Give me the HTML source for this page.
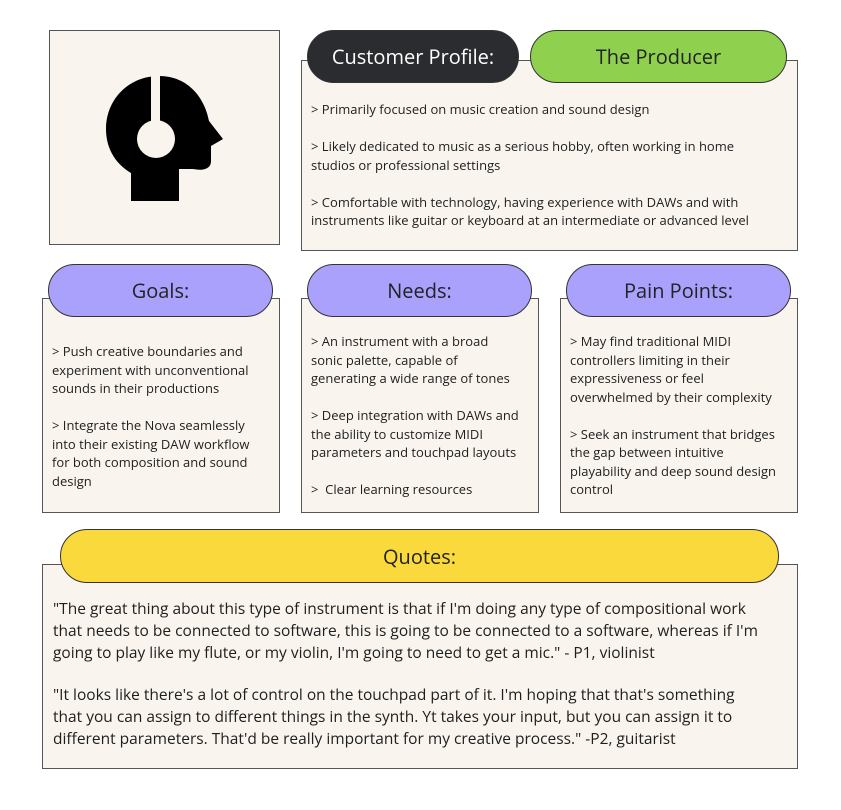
<!DOCTYPE html>
<html><head><meta charset="utf-8"><style>
body{margin:0;width:841px;height:810px;background:#fff;position:relative;font-family:"Open Sans","Liberation Sans","DejaVu Sans",sans-serif;color:#1e1e1e;overflow:hidden}
.box{position:absolute;background:#f9f5ee;border:1px solid #555;box-sizing:border-box}
.pill{position:absolute;box-sizing:border-box;border:1px solid #333;border-radius:27px;display:flex;align-items:center;justify-content:center;font-size:20px;color:#222}
.t{position:absolute;font-size:13px;line-height:18.5px}
.t p{margin:0 0 18.5px 0}
.q{position:absolute;font-size:15.5px;line-height:22px;white-space:nowrap}
.q p{margin:0 0 20px 0}
</style></head><body>
<div class="box" style="left:49px;top:30px;width:231px;height:215px">
<svg width="231" height="215" style="position:absolute;left:-49px;top:-30px;overflow:visible">
<path d="M130,200 L130,172 C110,160 105,142 105,128 C105,98 128,75 158,75 C188,75 204,98 208,120 L222,138 L210,145 L210,160 C210,168 202,170 192,168 L178,168 L178,200 Z" fill="#000"/>
<rect x="150" y="70" width="9" height="60" fill="#f9f5ee"/>
<circle cx="155" cy="138" r="19" fill="#f9f5ee"/>
</svg></div>
<div class="box" style="left:301px;top:60px;width:497px;height:191px"></div>
<div class="pill" style="left:307px;top:30px;width:212px;height:53px;background:#2b2c2f;color:#fff">Customer Profile:</div>
<div class="pill" style="left:530px;top:30px;width:257px;height:53px;background:#8fd14f">The Producer</div>
<div class="t" style="left:311px;top:100px;width:458px">
<p>&gt; Primarily focused on music creation and sound design</p>
<p>&gt; Likely dedicated to music as a serious hobby, often working in home studios or professional settings</p>
<p>&gt; Comfortable with technology, having experience with DAWs and with instruments like guitar or keyboard at an intermediate or advanced level</p></div>

<div class="box" style="left:42px;top:298px;width:238px;height:215px"></div>
<div class="pill" style="left:48px;top:264px;width:225px;height:53px;background:#a9a1fc">Goals:</div>
<div class="t" style="left:52px;top:342px;width:205px">
<p>&gt; Push creative boundaries and experiment with unconventional sounds in their productions</p>
<p>&gt; Integrate the Nova seamlessly into their existing DAW workflow for both composition and sound design</p></div>

<div class="box" style="left:301px;top:298px;width:238px;height:215px"></div>
<div class="pill" style="left:307px;top:264px;width:225px;height:53px;background:#a9a1fc">Needs:</div>
<div class="t" style="left:311px;top:332px;width:212px">
<p>&gt; An instrument with a broad sonic palette, capable of generating a wide range of tones</p>
<p>&gt; Deep integration with DAWs and the ability to customize MIDI parameters and touchpad layouts</p>
<p>&gt;&nbsp; Clear learning resources</p></div>

<div class="box" style="left:560px;top:298px;width:238px;height:215px"></div>
<div class="pill" style="left:566px;top:264px;width:225px;height:53px;background:#a9a1fc">Pain Points:</div>
<div class="t" style="left:570px;top:332px;width:212px">
<p>&gt; May find traditional MIDI controllers limiting in their expressiveness or feel overwhelmed by their complexity</p>
<p>&gt; Seek an instrument that bridges the gap between intuitive playability and deep sound design control</p></div>

<div class="box" style="left:42px;top:564px;width:756px;height:205px"></div>
<div class="pill" style="left:60px;top:529px;width:719px;height:54px;background:#fad93d">Quotes:</div>
<div class="q" style="left:53px;top:597px">
<p>"The great thing about this type of instrument is that if I'm doing any type of compositional work<br>that needs to be connected to software, this is going to be connected to a software, whereas if I'm<br>going to play like my flute, or my violin, I'm going to need to get a mic." - P1, violinist</p>
<p>"It looks like there's a lot of control on the touchpad part of it. I'm hoping that that's something<br>that you can assign to different things in the synth. Yt takes your input, but you can assign it to<br>different parameters. That'd be really important for my creative process." -P2, guitarist</p></div>
</body></html>
